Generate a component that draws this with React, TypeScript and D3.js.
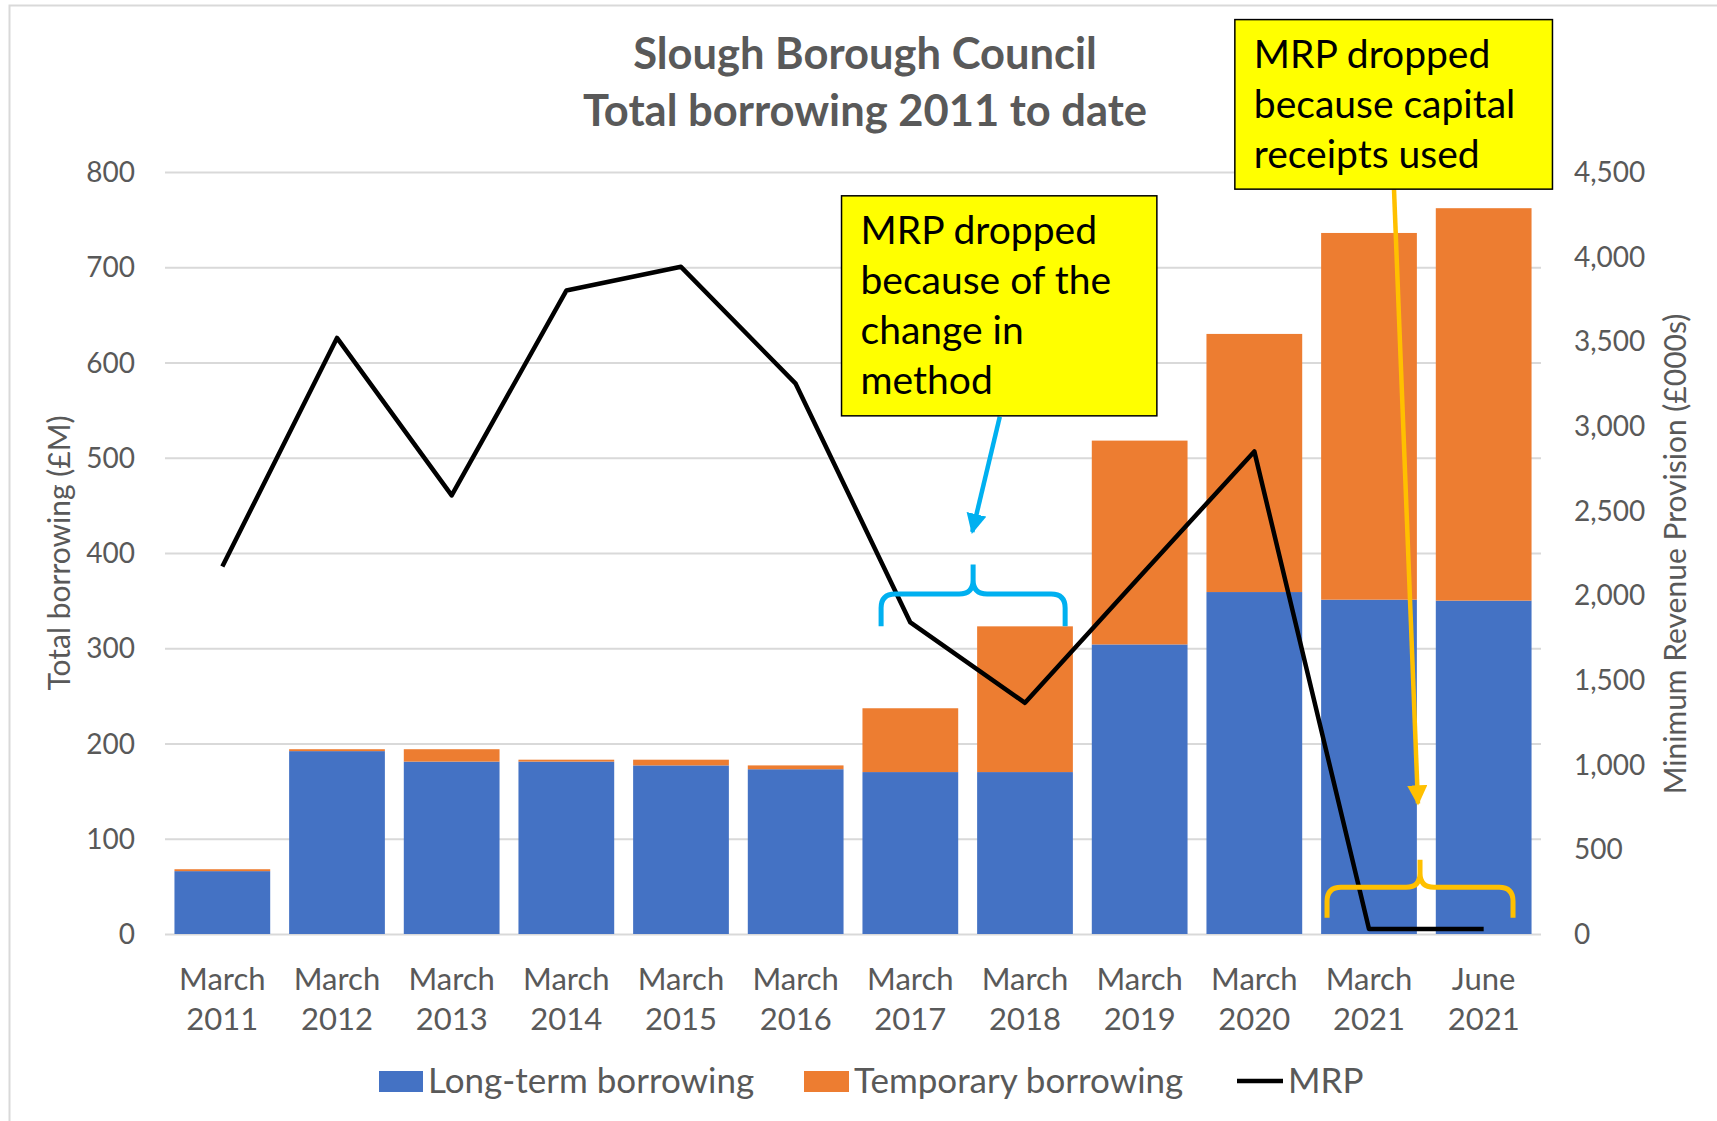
import { useEffect, useRef } from "react";
import * as d3 from "d3";

// values
const months = ["March", "March", "March", "March", "March", "March", "March", "March", "March", "March", "March", "June"];
const years = ["2011", "2012", "2013", "2014", "2015", "2016", "2017", "2018", "2019", "2020", "2021", "2021"];
const longTerm = [66, 192, 181, 181, 177, 173, 170, 170, 304, 359, 351, 350];
const temporary = [2, 2, 13, 2, 6, 4, 67, 153, 214, 271, 385, 412];
const mrp = [2170, 3520, 2590, 3800, 3940, 3250, 1840, 1365, 2110, 2850, 30, 30];

const leftTicks = [0, 100, 200, 300, 400, 500, 600, 700, 800];
const rightTicks = [0, 500, 1000, 1500, 2000, 2500, 3000, 3500, 4000, 4500];

const titleLines = ["Slough Borough Council", "Total borrowing 2011 to date"];
const note1 = ["MRP dropped", "because of the", "change in", "method"];
const note2 = ["MRP dropped", "because capital", "receipts used"];

const WIDTH = 1717;
const HEIGHT = 1121;
const BLUE = "#4472C4";
const ORANGE = "#ED7D31";
const GREY = "#595959";
const FONT = "Lato, 'Open Sans', sans-serif";

const App = () => {
  const ref = useRef<SVGSVGElement>(null);

  useEffect(() => {
    const svg = d3.select(ref.current);
    svg.selectAll("*").remove();

    const keys = years.map((y, i) => `${months[i]} ${y}`);
    const x = d3
      .scaleBand()
      .domain(keys)
      .range([165, 1541])
      .paddingInner(0.165)
      .paddingOuter(0.0825);
    const yL = d3.scaleLinear().domain([0, 800]).range([934, 172]);
    const yR = d3.scaleLinear().domain([0, 4500]).range([934, 172]);
    const cx = (i: number) => x(keys[i])! + x.bandwidth() / 2;
    // position between categories, in steps from a category centre
    const bx = (i: number, f: number) => cx(i) + f * x.step();

    svg.append("rect").attr("width", WIDTH).attr("height", HEIGHT).attr("fill", "#fff");
    // chart area border
    svg
      .append("rect")
      .attr("x", 9.5)
      .attr("y", 5.5)
      .attr("width", WIDTH + 20)
      .attr("height", HEIGHT + 20)
      .attr("fill", "none")
      .attr("stroke", "#D9D9D9")
      .attr("stroke-width", 2);

    // gridlines
    svg
      .append("g")
      .attr("transform", "translate(165,0)")
      .call(
        d3
          .axisRight(yL)
          .tickValues(leftTicks)
          .tickSize(1376)
          .tickFormat(() => "")
      )
      .call((g) => g.select(".domain").remove())
      .call((g) => g.selectAll(".tick line").attr("stroke", "#D9D9D9").attr("stroke-width", 2));

    // left tick labels
    svg
      .append("g")
      .selectAll("text")
      .data(leftTicks)
      .join("text")
      .attr("x", 135)
      .attr("y", (d) => yL(d))
      .attr("dy", "0.36em")
      .attr("text-anchor", "end")
      .attr("font-family", FONT)
      .attr("font-size", 28)
      .attr("fill", GREY)
      .text((d) => d);

    // right tick labels
    svg
      .append("g")
      .selectAll("text")
      .data(rightTicks)
      .join("text")
      .attr("x", 1574)
      .attr("y", (d) => yR(d))
      .attr("dy", "0.36em")
      .attr("font-family", FONT)
      .attr("font-size", 28)
      .attr("fill", GREY)
      .text((d) => d3.format(",")(d));

    // stacked bars
    const bars = svg.append("g");
    bars
      .selectAll("rect.lt")
      .data(longTerm)
      .join("rect")
      .attr("class", "lt")
      .attr("x", (_, i) => x(keys[i])!)
      .attr("width", x.bandwidth())
      .attr("y", (d) => yL(d))
      .attr("height", (d) => yL(0) - yL(d))
      .attr("fill", BLUE);
    bars
      .selectAll("rect.tmp")
      .data(temporary)
      .join("rect")
      .attr("class", "tmp")
      .attr("x", (_, i) => x(keys[i])!)
      .attr("width", x.bandwidth())
      .attr("y", (d, i) => yL(longTerm[i] + d))
      .attr("height", (d) => yL(0) - yL(d))
      .attr("fill", ORANGE);

    // MRP line
    const line = d3
      .line<number>()
      .x((_, i) => cx(i))
      .y((d) => yR(d));
    svg
      .append("path")
      .datum(mrp)
      .attr("fill", "none")
      .attr("stroke", "#000")
      .attr("stroke-width", 4.5)
      .attr("stroke-linejoin", "round")
      .attr("d", line);

    // x labels
    const xl = svg.append("g");
    keys.forEach((k, i) => {
      [months[i], years[i]].forEach((t, j) => {
        xl.append("text")
          .attr("x", cx(i))
          .attr("y", 990 + j * 40)
          .attr("text-anchor", "middle")
          .attr("font-family", FONT)
          .attr("font-size", 31)
          .attr("fill", GREY)
          .text(t);
      });
    });

    // title
    titleLines.forEach((t, i) => {
      svg
        .append("text")
        .attr("x", 865)
        .attr("y", 69 + i * 57)
        .attr("text-anchor", "middle")
        .attr("font-family", FONT)
        .attr("font-weight", "bold")
        .attr("font-size", 43.5)
        .attr("fill", GREY)
        .text(t);
    });

    // axis titles
    svg
      .append("text")
      .attr("transform", "translate(70,553) rotate(-90)")
      .attr("text-anchor", "middle")
      .attr("font-family", FONT)
      .attr("font-size", 30)
      .attr("fill", GREY)
      .text("Total borrowing (£M)");
    svg
      .append("text")
      .attr("transform", "translate(1686,554) rotate(-90)")
      .attr("text-anchor", "middle")
      .attr("font-family", FONT)
      .attr("font-size", 30)
      .attr("fill", GREY)
      .text("Minimum Revenue Provision (£000s)");

    // legend
    const lg = svg.append("g").attr("font-family", FONT).attr("font-size", 35).attr("fill", GREY);
    lg.append("rect").attr("x", 379).attr("y", 1071).attr("width", 44).attr("height", 21).attr("fill", BLUE);
    lg.append("text").attr("x", 428).attr("y", 1093).text("Long-term borrowing");
    lg.append("rect").attr("x", 804).attr("y", 1071).attr("width", 45).attr("height", 21).attr("fill", ORANGE);
    lg.append("text").attr("x", 854).attr("y", 1093).text("Temporary borrowing");
    lg.append("line")
      .attr("x1", 1237)
      .attr("x2", 1283)
      .attr("y1", 1081)
      .attr("y2", 1081)
      .attr("stroke", "#000")
      .attr("stroke-width", 4.5);
    lg.append("text").attr("x", 1288).attr("y", 1093).text("MRP");

    // arrow heads
    const defs = svg.append("defs");
    [
      ["head-cyan", "#00B0F0"],
      ["head-gold", "#FFC000"],
    ].forEach(([id, c]) => {
      defs
        .append("marker")
        .attr("id", id)
        .attr("viewBox", "0 0 10 10")
        .attr("refX", 9)
        .attr("refY", 5)
        .attr("markerWidth", 4.5)
        .attr("markerHeight", 4.5)
        .attr("orient", "auto")
        .append("path")
        .attr("d", "M0,0 L10,5 L0,10 Z")
        .attr("fill", c);
    });

    // curly bracket
    const brace = (x0: number, x1: number, yb: number, yEnd: number, yTop: number) => {
      const r = 14;
      const xm = (x0 + x1) / 2;
      return (
        `M${x0},${yEnd} L${x0},${yb + r} Q${x0},${yb} ${x0 + r},${yb} L${xm - r},${yb} Q${xm},${yb} ${xm},${yb - r} L${xm},${yTop}` +
        ` M${xm},${yb - r} Q${xm},${yb} ${xm + r},${yb} L${x1 - r},${yb} Q${x1},${yb} ${x1},${yb + r} L${x1},${yEnd}`
      );
    };

    // note 1: change in method
    svg
      .append("path")
      .attr("d", brace(bx(6, -0.255), bx(7, 0.35), yL(357), yL(323), yL(388)))
      .attr("fill", "none")
      .attr("stroke", "#00B0F0")
      .attr("stroke-width", 5);
    svg
      .append("line")
      .attr("x1", bx(6, 0.78))
      .attr("y1", yL(543))
      .attr("x2", bx(6, 0.54))
      .attr("y2", yL(422))
      .attr("stroke", "#00B0F0")
      .attr("stroke-width", 4.5)
      .attr("marker-end", "url(#head-cyan)");

    // note 2: capital receipts
    svg
      .append("path")
      .attr("d", brace(bx(10, -0.366), bx(11, 0.256), yL(49), yL(17), yL(78)))
      .attr("fill", "none")
      .attr("stroke", "#FFC000")
      .attr("stroke-width", 5);
    svg
      .append("line")
      .attr("x1", bx(10, 0.218))
      .attr("y1", yL(782))
      .attr("x2", bx(10, 0.427))
      .attr("y2", yL(137))
      .attr("stroke", "#FFC000")
      .attr("stroke-width", 4.5)
      .attr("marker-end", "url(#head-gold)");

    const noteBox = (lines: string[], x0: number, x1: number, top: number, bottom: number) => {
      const g = svg.append("g");
      g.append("rect")
        .attr("x", x0)
        .attr("y", top)
        .attr("width", x1 - x0)
        .attr("height", bottom - top)
        .attr("fill", "#FFFF00")
        .attr("stroke", "#000")
        .attr("stroke-width", 1.5);
      lines.forEach((t, i) => {
        g.append("text")
          .attr("x", x0 + 19)
          .attr("y", top + 48 + i * 50)
          .attr("font-family", FONT)
          .attr("font-size", 39)
          .attr("fill", "#000")
          .text(t);
      });
    };
    noteBox(note1, bx(6, -0.6), bx(7, 1.15), yL(775), yL(544));
    noteBox(note2, bx(10, -1.17), bx(11, 0.6), yL(960), yL(782));
  }, []);

  return (
    <svg
      ref={ref}
      width={WIDTH}
      height={HEIGHT}
      style={{ position: "absolute", left: 0, top: 0 }}
    />
  );
};

export default App;
